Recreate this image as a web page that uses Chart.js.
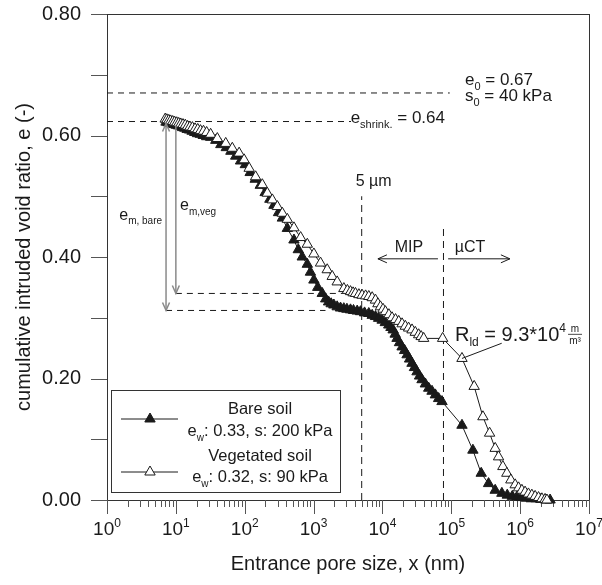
<!DOCTYPE html>
<html>
<head>
<meta charset="utf-8">
<script src="https://cdn.jsdelivr.net/npm/chart.js@4.4.1/dist/chart.umd.min.js"></script>
<style>
  html, body { margin: 0; background: #fff; }
  #wrap { width: 602px; height: 585px; }
</style>
</head>
<body>
<div id="wrap"><canvas id="c" width="602" height="585"></canvas></div>
<script>
'use strict';

/* ── data: entrance pore size x (nm) → cumulative intruded void ratio e ── */
const bareX = [7.2, 7.7, 8.2, 8.8, 9.4, 10.1, 10.8, 11.6, 12.5, 13.5, 14.6, 15.8, 17.2, 18.8, 20.6, 22.6, 25, 28,
  32, 38, 45, 54, 63, 74, 87, 102, 120, 142, 168, 198, 232, 266, 310, 352, 416, 519, 600, 685, 811, 900,
  1011, 1150, 1337, 1500, 1650, 1800, 1970, 2200, 2460, 2750, 3050, 3437, 3800, 4300, 4800, 5500, 6340, 7100,
  7920, 8800, 9890, 11000, 12350, 13300, 14300, 15300, 16300, 17700, 19300, 21000, 22800, 24800, 26900, 29200,
  31800, 34600, 37600, 42000, 47000, 52500, 58700, 65500, 73300, 143000, 206000, 272000, 348000, 434000,
  543000, 650000, 770000, 900000, 1050000, 1230000, 1450000, 1700000, 2000000, 2350000, 2720000];
const bareY = [0.622, 0.621, 0.620, 0.619, 0.618, 0.617, 0.616, 0.615, 0.613, 0.612, 0.610, 0.609, 0.607, 0.605, 0.603, 0.602, 0.600, 0.598,
  0.597, 0.592, 0.585, 0.580, 0.574, 0.566, 0.558, 0.552, 0.539, 0.528, 0.518, 0.506, 0.495, 0.485, 0.473, 0.464, 0.447, 0.428, 0.412, 0.400, 0.388, 0.375,
  0.362, 0.350, 0.340, 0.331, 0.326, 0.323, 0.321, 0.318, 0.316, 0.315, 0.314, 0.313, 0.312, 0.311, 0.310, 0.308, 0.307, 0.304,
  0.302, 0.299, 0.296, 0.292, 0.288, 0.284, 0.280, 0.273, 0.266, 0.259, 0.252, 0.246, 0.239, 0.232, 0.225, 0.218,
  0.211, 0.204, 0.198, 0.191, 0.184, 0.179, 0.173, 0.167, 0.162, 0.123, 0.082, 0.044, 0.027, 0.016,
  0.011, 0.008, 0.006, 0.005, 0.004, 0.003, 0.002, 0.002, 0.001, 0.000, 0.000];

const vegX = [7.0, 7.4, 7.9, 8.4, 9.0, 9.6, 10.3, 11.0, 11.8, 12.7, 13.7, 14.8, 16, 17.4, 19, 20.8, 22.8, 25.2, 28,
  32, 40, 53, 66, 83, 98, 116, 144, 180, 213, 252, 298, 352, 416, 519, 649, 811, 1011, 1262, 1578, 1866,
  2203, 2754, 3100, 3437, 3750, 4060, 4550, 5070, 5700, 6340, 7100, 7920, 8600, 9360, 10200, 11050, 12400,
  13800, 15500, 17250, 19300, 21500, 24000, 26900, 30000, 33600, 36500, 39700, 74900, 143000, 215000, 288000,
  360000, 434000, 486000, 561000, 641000, 733000, 847000, 950000, 1060000, 1180000, 1320000, 1480000,
  1650000, 1850000, 2070000, 2300000, 2450000];
const vegY = [0.627, 0.626, 0.625, 0.624, 0.623, 0.622, 0.621, 0.620, 0.619, 0.618, 0.617, 0.615, 0.614, 0.613, 0.611, 0.610, 0.608, 0.607, 0.605,
  0.602, 0.595, 0.587, 0.579, 0.571, 0.560, 0.546, 0.532, 0.519, 0.505, 0.494, 0.483, 0.472, 0.462, 0.448, 0.432, 0.421, 0.405, 0.390, 0.379, 0.368,
  0.359, 0.348, 0.345, 0.343, 0.341, 0.340, 0.338, 0.337, 0.336, 0.335, 0.333, 0.329, 0.323, 0.318, 0.314, 0.310, 0.305,
  0.300, 0.297, 0.294, 0.290, 0.286, 0.283, 0.280, 0.276, 0.272, 0.269, 0.266, 0.266, 0.233, 0.187, 0.137,
  0.110, 0.085, 0.071, 0.055, 0.044, 0.033, 0.025, 0.020, 0.016, 0.013, 0.010, 0.008,
  0.006, 0.004, 0.002, 0.001, 0.000];

/* ── axes ── */
const xDecades = [0, 1, 2, 3, 4, 5, 6, 7];           // labels 10^d
const xMinorMult = [2, 3, 4, 5, 6, 7, 8, 9];
const yTicks = [0, 0.1, 0.2, 0.3, 0.4, 0.5, 0.6, 0.7, 0.8];
const yLabels = ['0.00', '', '0.20', '', '0.40', '', '0.60', '', '0.80'];

/* ── reference levels / annotations (data units) ── */
const E0 = 0.67, E0_END = 9.5e4;
const E_SHRINK = 0.623, E_SHRINK_END = 3500;
const EM_BARE = { x: 7.2, top: 0.623, bottom: 0.312, end: 1490 };
const EM_VEG = { x: 10, top: 0.623, bottom: 0.340, end: 2700 };
const V_5UM = { x: 5000, top: 0.50 };
const V_CT = { x: 7.7e4, top: 0.45 };
const MIP_ARROW = { y: 0.397, from: 6.4e4, to: 8600 };
const CT_ARROW = { y: 0.397, from: 9.0e4, to: 7.1e5 };
const RLD_POINT = { x: 143000, y: 0.233 }, RLD_END = { x: 5.4e5, y: 0.258 };

const FONT = '"Liberation Sans", Arial, Helvetica, sans-serif';
const INK = '#1a1a1a';

function rich(ctx, parts, x, y, align, size) {
  const fs = m => (m === 'n' ? size : Math.round(size * 0.62));
  let w = 0;
  parts.forEach(([t, m]) => { ctx.font = fs(m) + 'px ' + FONT; w += ctx.measureText(t).width; });
  let cx = align === 'center' ? x - w / 2 : align === 'right' ? x - w : x;
  ctx.textAlign = 'left';
  ctx.textBaseline = 'alphabetic';
  parts.forEach(([t, m]) => {
    ctx.font = fs(m) + 'px ' + FONT;
    const dy = m === 'sub' ? size * 0.28 : m === 'sup' ? -size * 0.42 : 0;
    ctx.fillText(t, cx, y + dy);
    cx += ctx.measureText(t).width;
  });
  return cx;
}

function line(ctx, x1, y1, x2, y2) {
  ctx.beginPath(); ctx.moveTo(x1, y1); ctx.lineTo(x2, y2); ctx.stroke();
}
function vHead(ctx, x, y, dir) {   // dir +1 points down, -1 points up
  ctx.beginPath(); ctx.moveTo(x - 3.5, y - dir * 8); ctx.lineTo(x, y); ctx.lineTo(x + 3.5, y - dir * 8); ctx.stroke();
}
function hHead(ctx, x, y, dir) {   // dir -1 points left, +1 points right
  ctx.beginPath(); ctx.moveTo(x - dir * 9, y - 4); ctx.lineTo(x, y); ctx.lineTo(x - dir * 9, y + 4); ctx.stroke();
}

/* ══════════════ AXES / FRAME ══════════════ */
const axesPlugin = {
  id: 'axesFrame',
  beforeDatasetsDraw(chart) {
    const { ctx, chartArea: a, scales: { x, y } } = chart;
    ctx.save();
    ctx.strokeStyle = '#333';
    ctx.lineWidth = 1;
    ctx.strokeRect(a.left + 0.5, a.top + 0.5, a.right - a.left, a.bottom - a.top);
    ctx.strokeStyle = '#555';
    // x ticks
    xDecades.forEach(d => {
      const px = Math.round(x.getPixelForValue(Math.pow(10, d))) + 0.5;
      line(ctx, px, a.bottom, px, a.bottom + 14);
      if (d < 7) xMinorMult.forEach(m => {
        const pm = Math.round(x.getPixelForValue(m * Math.pow(10, d))) + 0.5;
        line(ctx, pm, a.bottom, pm, a.bottom + 7);
      });
    });
    // y ticks
    yTicks.forEach(v => {
      const py = Math.round(y.getPixelForValue(v)) + 0.5;
      line(ctx, a.left - 16, py, a.left, py);
    });
    ctx.fillStyle = INK;
    xDecades.forEach(d => {
      rich(ctx, [['10', 'n'], [String(d), 'sup']], x.getPixelForValue(Math.pow(10, d)), a.bottom + 35, 'center', 19);
    });
    ctx.font = '20px ' + FONT;
    ctx.textAlign = 'right';
    ctx.textBaseline = 'middle';
    yTicks.forEach((v, i) => { if (yLabels[i]) ctx.fillText(yLabels[i], a.left - 26, y.getPixelForValue(v)); });
    // titles
    ctx.textAlign = 'center';
    ctx.textBaseline = 'alphabetic';
    ctx.fillText('Entrance pore size, x (nm)', (a.left + a.right) / 2, a.bottom + 70);
    ctx.save();
    ctx.translate(30, (a.top + a.bottom) / 2);
    ctx.rotate(-Math.PI / 2);
    ctx.fillText('cumulative intruded void ratio, e (-)', 0, 0);
    ctx.restore();

    // dashed reference lines
    ctx.strokeStyle = INK;
    ctx.setLineDash([6, 5]);
    const X = v => x.getPixelForValue(v), Y = v => y.getPixelForValue(v);
    line(ctx, a.left, Y(E0), X(E0_END), Y(E0));
    line(ctx, a.left, Y(E_SHRINK), X(E_SHRINK_END), Y(E_SHRINK));
    line(ctx, X(EM_BARE.x), Y(EM_BARE.bottom), X(EM_BARE.end), Y(EM_BARE.bottom));
    line(ctx, X(EM_VEG.x), Y(EM_VEG.bottom), X(EM_VEG.end), Y(EM_VEG.bottom));
    ctx.setLineDash([7, 5]);
    line(ctx, X(V_5UM.x), Y(0), X(V_5UM.x), Y(V_5UM.top));
    line(ctx, X(V_CT.x), Y(0), X(V_CT.x), Y(V_CT.top));
    ctx.setLineDash([]);
    ctx.restore();
  },

  /* ══════════════ NOTES + LEGEND ══════════════ */
  afterDraw(chart) {
    const { ctx, scales: { x, y } } = chart;
    const X = v => x.getPixelForValue(v), Y = v => y.getPixelForValue(v);
    ctx.save();
    ctx.fillStyle = INK;

    // e_m arrows (gray)
    ctx.strokeStyle = '#8a8a8a';
    ctx.lineWidth = 1.5;
    line(ctx, X(EM_BARE.x), Y(EM_BARE.top) + 2, X(EM_BARE.x), Y(EM_BARE.bottom));
    vHead(ctx, X(EM_BARE.x), Y(EM_BARE.bottom), 1);
    vHead(ctx, X(EM_BARE.x), Y(EM_BARE.top) + 2, -1);
    line(ctx, X(EM_VEG.x), Y(EM_VEG.top) + 4, X(EM_VEG.x), Y(EM_VEG.bottom));
    vHead(ctx, X(EM_VEG.x), Y(EM_VEG.bottom), 1);

    // MIP / µCT arrows
    ctx.strokeStyle = INK;
    ctx.lineWidth = 1;
    line(ctx, X(MIP_ARROW.from), Y(MIP_ARROW.y), X(MIP_ARROW.to), Y(MIP_ARROW.y));
    hHead(ctx, X(MIP_ARROW.to), Y(MIP_ARROW.y), -1);
    line(ctx, X(CT_ARROW.from), Y(CT_ARROW.y), X(CT_ARROW.to), Y(CT_ARROW.y));
    hHead(ctx, X(CT_ARROW.to), Y(CT_ARROW.y), 1);

    // R_ld leader
    line(ctx, X(RLD_POINT.x), Y(RLD_POINT.y), X(RLD_END.x), Y(RLD_END.y));

    // texts
    rich(ctx, [['e', 'n'], ['0', 'sub'], [' = 0.67', 'n']], X(1.58e5), Y(0.683), 'left', 17);
    rich(ctx, [['s', 'n'], ['0', 'sub'], [' = 40 kPa', 'n']], X(1.58e5), Y(0.657), 'left', 17);
    rich(ctx, [['e', 'n'], ['shrink.', 'sub'], [' = 0.64', 'n']], X(8.1e4), Y(0.6206), 'right', 17);
    rich(ctx, [['e', 'n'], ['m,veg', 'sub']], X(11.5), Y(0.477), 'left', 16);
    rich(ctx, [['e', 'n'], ['m, bare', 'sub']], X(6.3), Y(0.461), 'right', 16);
    ctx.font = '16px ' + FONT;
    ctx.textAlign = 'center';
    ctx.fillText('5 µm', X(V_5UM.x) + 12, Y(V_5UM.top) - 10);
    ctx.fillText('MIP', X(24300), Y(0.408));
    ctx.fillText('µCT', X(1.87e5), Y(0.408));
    const ex = rich(ctx, [['R', 'n'], ['ld', 'sub'], [' = 9.3*10', 'n'], ['4', 'sup']], X(1.13e5), Y(0.262), 'left', 20);
    // m / m³ fraction
    ctx.font = '10px ' + FONT;
    ctx.textAlign = 'center';
    const fx = ex + 9, fy = Y(0.262) - 7;
    ctx.fillText('m', fx, fy - 2);
    ctx.fillText('m³', fx, fy + 10);
    ctx.lineWidth = 0.8;
    line(ctx, fx - 7, fy + 0.5, fx + 7, fy + 0.5);

    // legend
    const L = { l: 111.5, t: 390.5, r: 340.5, b: 492.5 };
    ctx.fillStyle = '#fff';
    ctx.fillRect(L.l, L.t, L.r - L.l, L.b - L.t);
    ctx.strokeStyle = '#333';
    ctx.lineWidth = 1;
    ctx.strokeRect(L.l, L.t, L.r - L.l, L.b - L.t);
    const entries = [
      { ds: chart.data.datasets[1], ly: 419, rows: [[['Bare soil', 'n']], [['e', 'n'], ['w', 'sub'], [': 0.33, s: 200 kPa', 'n']]], base: [414, 436] },
      { ds: chart.data.datasets[0], ly: 472, rows: [[['Vegetated soil', 'n']], [['e', 'n'], ['w', 'sub'], [': 0.32, s: 90 kPa', 'n']]], base: [461, 482] }
    ];
    entries.forEach(e => {
      ctx.strokeStyle = INK;
      line(ctx, 121, e.ly, 178, e.ly);
      ctx.fillStyle = e.ds.pointBackgroundColor;
      ctx.strokeStyle = e.ds.pointBorderColor;
      Chart.helpers.drawPoint(ctx, { pointStyle: 'triangle', radius: e.ds.pointRadius, rotation: 0, borderWidth: 1 }, 150, e.ly);
      ctx.fillStyle = INK;
      e.rows.forEach((r, i) => rich(ctx, r, 260, e.base[i], 'center', 16.5));
    });
    ctx.restore();
  }
};

const toPts = (xs, ys) => xs.map((v, i) => ({ x: v, y: ys[i] }));

new Chart(document.getElementById('c'), {
  type: 'line',
  data: {
    datasets: [
      { label: 'Vegetated soil', data: toPts(vegX, vegY), order: 1,
        borderColor: INK, borderWidth: 1, pointStyle: 'triangle', pointRadius: 6,
        pointBackgroundColor: '#fff', pointBorderColor: INK, pointBorderWidth: 1, clip: false },
      { label: 'Bare soil', data: toPts(bareX, bareY), order: 2,
        borderColor: INK, borderWidth: 1, pointStyle: 'triangle', pointRadius: 6,
        pointBackgroundColor: INK, pointBorderColor: INK, pointBorderWidth: 1, clip: false }
    ]
  },
  options: {
    responsive: false,
    animation: false,
    devicePixelRatio: 1,
    layout: { padding: { left: 107, right: 13, top: 14, bottom: 85 } },
    scales: {
      x: { type: 'logarithmic', min: 1, max: 1e7, display: false },
      y: { type: 'linear', min: 0, max: 0.8, display: false }
    },
    plugins: { legend: { display: false }, tooltip: { enabled: false } }
  },
  plugins: [axesPlugin]
});
</script>
</body>
</html>
